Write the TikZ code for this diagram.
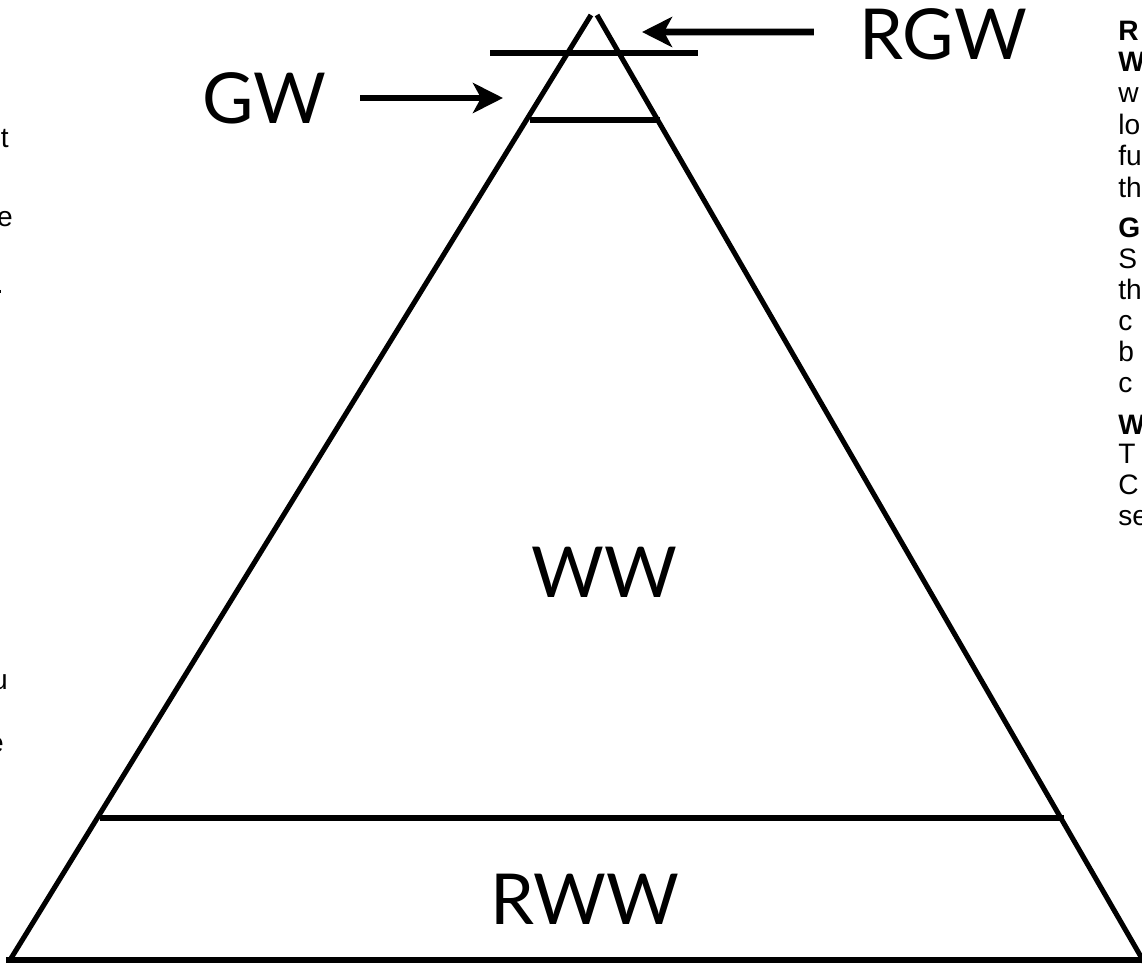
\documentclass[tikz,border=0pt]{standalone}
\usepackage{fontspec}
\setmainfont{Liberation Sans}
\newfontfamily\gillfont{Lato}
\usetikzlibrary{arrows.meta}

\begin{document}
\begin{tikzpicture}[x=0.025cm, y=-0.025cm,
    side/.style={line width=3.6pt, line cap=butt},
    band/.style={line width=4.8pt},
    pointer/.style={line width=4.8pt, -{Stealth[length=7.5mm, width=7.5mm, inset=2mm]}},
    layer/.style={font=\gillfont\fontsize{50}{60}\selectfont, inner sep=0pt},
    cuttext/.style={font=\fontsize{20}{22}\selectfont, inner sep=0pt, anchor=base west},
    edgetext/.style={font=\fontsize{20}{22}\selectfont, inner sep=0pt, anchor=base east}]
  \useasboundingbox (0,0) rectangle (1142,965);
  \clip (0,0) rectangle (1142,965);

  % pyramid
  \coordinate (topl) at (591,15);
  \coordinate (topr) at (597,15);
  \coordinate (botl) at (10,960);
  \coordinate (botr) at (1144,962);
  \draw[side] (topl) -- (botl);
  \draw[side] (topr) -- (botr);
  \draw[side] (6,960) -- (1142,960);

  % layer lines
  \draw[band] (490,53) -- (698,53);
  \draw[band] (530,120) -- (660,120);
  \draw[band] (100,818) -- (1064,818);

  % labels
  \node[layer] (gw) at (264,98) {GW};
  \node[layer] (rgw) at (943,34) {RGW};
  \node[layer] (ww) at (604,572) {WW};
  \node[layer] (rww) at (585,899) {RWW};

  % pointers
  \coordinate (gwtip) at (503,98);
  \coordinate (rgwtip) at (642,32);
  \draw[pointer] ([xshift=0.85cm]gw.east) -- (gwtip);
  \draw[pointer] ([xshift=-1.125cm,yshift=0.05cm]rgw.west) -- (rgwtip);

  % text cut off at the right edge
  \node[cuttext] (r1) at (1118,41) {\bfseries R};
  \node[cuttext] (r2) at (1118,72) {\bfseries W};
  \node[cuttext] (r3) at (1118,103) {w};
  \node[cuttext] (r4) at (1118,135) {lo};
  \node[cuttext] (r5) at (1118,166) {fu};
  \node[cuttext] (r6) at (1118,197) {th};
  \node[cuttext] (r7) at (1118,237) {\bfseries G};
  \node[cuttext] (r8) at (1118,268) {S};
  \node[cuttext] (r9) at (1118,299) {th};
  \node[cuttext] (r10) at (1118,330) {c};
  \node[cuttext] (r11) at (1118,361) {b};
  \node[cuttext] (r12) at (1118,392) {c};
  \node[cuttext] (r13) at (1118,434) {\bfseries W};
  \node[cuttext] (r14) at (1118,463) {T};
  \node[cuttext] (r15) at (1118,494) {C};
  \node[cuttext] (r16) at (1118,525) {se};

  % text cut off at the left edge
  \node[edgetext] (l1) at (10,-7) {g};
  \node[edgetext] (l2) at (9,148) {t};
  \node[edgetext] (l3) at (13,226) {e};
  \node[edgetext] (l4) at (4,293) {.};
  \node[edgetext] (l5) at (8,689) {u};
  \node[edgetext] (l6) at (4,752) {e};
\end{tikzpicture}
\end{document}
